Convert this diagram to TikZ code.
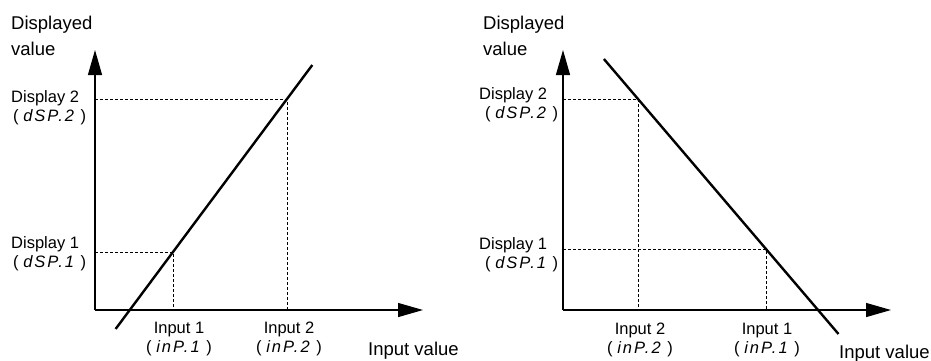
\documentclass[tikz,border=0pt]{standalone}
\usepackage{fontspec}
\setmainfont{Liberation Sans}
\usetikzlibrary{arrows.meta}

\newcommand{\seg}[1]{(\;\textit{\addfontfeatures{LetterSpace=12}#1}\;)}

\begin{document}
\begin{tikzpicture}[x=1pt, y=-1pt,
    axis/.style={line width=1.3pt, -{Triangle[length=25pt, width=14pt]}},
    guide/.style={dashed, line width=0.7pt, dash pattern=on 3pt off 2pt},
    curve/.style={line width=2.4pt},
    big/.style={inner sep=0pt, align=left, font=\fontsize{18.5}{26}\selectfont},
    small/.style={inner sep=0pt, font=\fontsize{16.5}{18.5}\selectfont}]
    \useasboundingbox (0,0) rectangle (931,360);

    % left: rising line
    \coordinate (O1) at (95,310);
    \coordinate (Y1) at (95,50);
    \coordinate (X1) at (423,310);
    \coordinate (P1) at (173,252);
    \coordinate (P2) at (287,99);
    \coordinate (L1a) at (115.6,329);
    \coordinate (L1b) at (312.3,65);

    \draw[axis] (O1) -- (Y1);
    \draw[axis] (O1) -- (X1);
    \draw[guide] (O1 |- P1) -- (P1) -- (P1 |- O1);
    \draw[guide] (O1 |- P2) -- (P2) -- (P2 |- O1);
    \draw[curve] (L1a) -- (L1b);

    % base of a two-line node is its last line
    \node[big, anchor=base west] (dv1) at (11,55) {Displayed\\value};
    \node[small, anchor=base west, align=left] (d21) at (11,121) {Display 2\\\hspace{2pt}\seg{dSP.2}};
    \node[small, anchor=base west, align=left] (d11) at (11,267) {Display 1\\\hspace{2pt}\seg{dSP.1}};
    \node[small, anchor=base, align=center] (i11) at (179,352) {Input 1\\\seg{inP.1}};
    \node[small, anchor=base, align=center] (i21) at (289,352) {Input 2\\\seg{inP.2}};
    \node[big, anchor=base west] (iv1) at (368,355) {Input value};

    % right: falling line
    \coordinate (O2) at (563,310);
    \coordinate (Y2) at (563,50);
    \coordinate (X2) at (891,310);
    \coordinate (Q1) at (766,249);
    \coordinate (Q2) at (638,99);
    \coordinate (L2a) at (603.9,59);
    \coordinate (L2b) at (838.5,334);

    \draw[axis] (O2) -- (Y2);
    \draw[axis] (O2) -- (X2);
    \draw[guide] (O2 |- Q1) -- (Q1) -- (Q1 |- O2);
    \draw[guide] (O2 |- Q2) -- (Q2) -- (Q2 |- O2);
    \draw[curve] (L2a) -- (L2b);

    \node[big, anchor=base west] (dv2) at (483,55) {Displayed\\value};
    \node[small, anchor=base west, align=left] (d22) at (479,118) {Display 2\\\hspace{6pt}\seg{dSP.2}};
    \node[small, anchor=base west, align=left] (d12) at (479,268) {Display 1\\\hspace{6pt}\seg{dSP.1}};
    \node[small, anchor=base, align=center] (i22) at (640,353) {Input 2\\\seg{inP.2}};
    \node[small, anchor=base, align=center] (i12) at (767,353) {Input 1\\\seg{inP.1}};
    \node[big, anchor=base west] (iv2) at (839,358) {Input value};
\end{tikzpicture}
\end{document}
